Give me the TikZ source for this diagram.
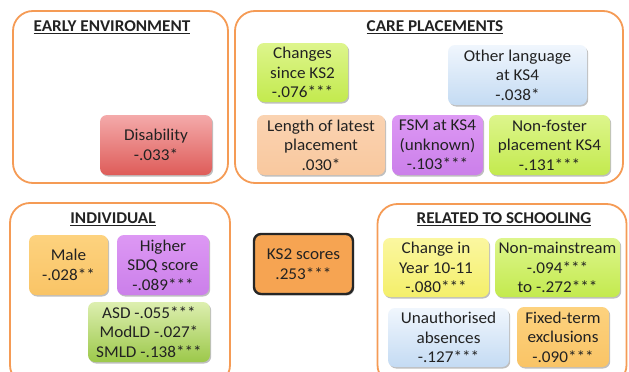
\documentclass[tikz,border=0pt]{standalone}
\usepackage{fontspec}
\setmainfont[FakeStretch=1.04]{Carlito}
\usetikzlibrary{shadows}
\definecolor{grpborder}{HTML}{F59B55}
\definecolor{txt}{HTML}{222222}
\definecolor{limeT}{HTML}{DDF58C}
\definecolor{limeB}{HTML}{C3EA4E}
\definecolor{blueT}{HTML}{F0F6FD}
\definecolor{blueB}{HTML}{C4DBF3}
\definecolor{redT}{HTML}{F4AAAA}
\definecolor{redB}{HTML}{DE5C59}
\definecolor{peach}{HTML}{F9C89E}
\definecolor{violetT}{HTML}{DD98F4}
\definecolor{violetB}{HTML}{CB7FEA}
\definecolor{goldT}{HTML}{FDD27E}
\definecolor{goldB}{HTML}{F9C466}
\definecolor{greenT}{HTML}{DDEFB0}
\definecolor{greenB}{HTML}{9CC84A}
\definecolor{yellowT}{HTML}{FBF7A0}
\definecolor{yellowB}{HTML}{F4EF6A}
\definecolor{ksfill}{HTML}{F6A452}
\tikzset{
  x=1pt, y=-1pt,
  grp/.style={draw=grpborder, line width=1.8pt, rounded corners=20pt, fill=white},
  grptitle/.style={font=\fontsize{16.5}{19}\selectfont\bfseries, text=txt},
  item/.style={rounded corners=7pt, align=center, text=txt, inner sep=1pt,
    font=\fontsize{16.5}{19.5}\selectfont,
    drop shadow={shadow xshift=1.2pt, shadow yshift=-1.5pt, opacity=0.25, fill=black}},
  lime/.style={item, top color=limeT, bottom color=limeB},
  lblue/.style={item, top color=blueT, bottom color=blueB},
  red/.style={item, top color=redT, bottom color=redB},
  peachbox/.style={item, top color=peach!80!white, bottom color=peach},
  violet/.style={item, top color=violetT, bottom color=violetB},
  gold/.style={item, top color=goldT, bottom color=goldB},
  greenbox/.style={item, top color=greenT, bottom color=greenB},
  yellowbox/.style={item, top color=yellowT, bottom color=yellowB},
}
\begin{document}
\begin{tikzpicture}
\useasboundingbox (0,0) rectangle (629,372);
\begin{scope}
\clip (0,0) rectangle (629,372);
% group boxes
\node[grp, minimum width=215pt, minimum height=172pt] (early) at (120.5,97) {};
\node[grp, minimum width=388pt, minimum height=172pt] (care) at (429,97) {};
\node[grp, minimum width=220pt, minimum height=182pt] (indiv) at (120,294) {};
\node[grp, minimum width=249pt, minimum height=181pt] (school) at (502,294.5) {};
\end{scope}
% titles
\node[grptitle] (earlyT) at (112,27) {\underline{EARLY ENVIRONMENT}};
\node[grptitle] (careT) at (435,27) {\underline{CARE PLACEMENTS}};
\node[grptitle] (indivT) at (113,219) {\underline{INDIVIDUAL}};
\node[grptitle] (schoolT) at (504,219) {\underline{RELATED TO SCHOOLING}};
% early environment
\node[red, minimum width=112pt, minimum height=60pt] (dis) at (156,145) {Disability\\-.033*};
% care placements
\node[lime, minimum width=91pt, minimum height=59pt] (chg) at (302.5,72.5) {Changes\\since KS2\\-.076***};
\node[lblue, minimum width=139pt, minimum height=60pt] (lang) at (517.5,75) {Other language\\at KS4\\-.038*};
\node[peachbox, minimum width=128pt, minimum height=60pt] (len) at (321,145) {Length of latest\\placement\\.030*};
\node[violet, minimum width=91pt, minimum height=60pt] (fsm) at (437.5,145) {FSM at KS4\\(unknown)\\-.103***};
\node[lime, minimum width=121pt, minimum height=60pt] (nonf) at (549.5,145) {Non-foster\\placement KS4\\-.131***};
% individual
\node[gold, minimum width=79pt, minimum height=60pt] (male) at (68.5,265) {Male\\-.028**};
\node[violet, minimum width=92pt, minimum height=60pt] (sdq) at (163,265) {Higher\\SDQ score\\-.089***};
\node[greenbox, minimum width=122pt, minimum height=60pt] (asd) at (149,332) {ASD -.055***\\ModLD -.027*\\SMLD -.138***};
% KS2
\node[item, fill=ksfill, draw=black!85, line width=2.4pt, minimum width=99pt, minimum height=60pt] (ks2) at (303.5,264) {KS2 scores\\.253***};
% schooling
\node[yellowbox, minimum width=106pt, minimum height=59pt] (y10) at (436,267.5) {Change in\\Year 10-11\\-.080***};
\node[lime, minimum width=125pt, minimum height=59pt] (nonm) at (557.5,267.5) {Non-mainstream\\-.094***\\to -.272***};
\node[lblue, minimum width=121pt, minimum height=59pt] (unauth) at (448.5,337.5) {Unauthorised\\absences\\-.127***};
\node[gold, minimum width=92pt, minimum height=60pt] (fixed) at (563,337) {Fixed-term\\exclusions\\-.090***};
\end{tikzpicture}
\end{document}
